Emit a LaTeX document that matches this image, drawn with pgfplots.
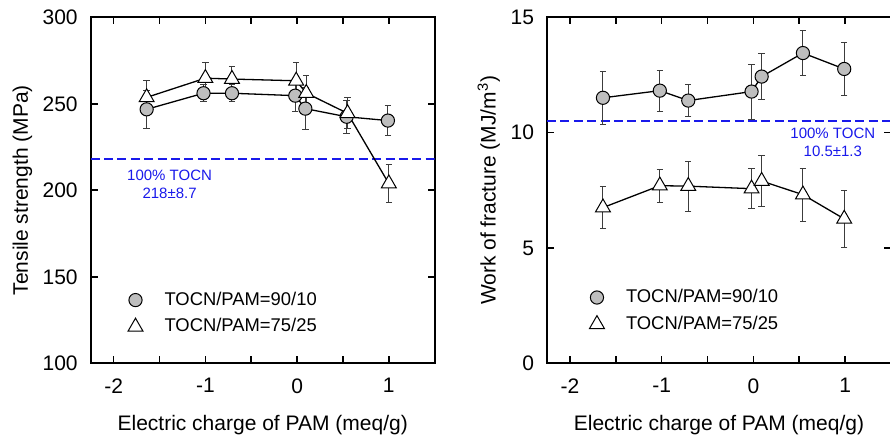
\documentclass[border=0pt]{standalone}
\usepackage{fontspec}
\setmainfont{Liberation Sans}
\usepackage{pgfplots}
\usepackage{pgfplotstable}
\pgfplotsset{compat=1.18}
\definecolor{refblue}{RGB}{25,25,235}
\definecolor{markgray}{RGB}{190,190,190}
\definecolor{errgray}{RGB}{60,60,60}
\newcommand{\legfont}{\fontsize{9.2}{11}\selectfont}

% tensile strength (MPa)
\pgfplotstableread{
x      y      e
-1.64  246.8  11.0
-1.02  256.1  5.0
-0.71  256.1  5.0
-0.02  254.7  9.4
 0.09  247.2  12.0
 0.54  242.5  9.5
 0.99  240.3  8.8
}\tsA
\pgfplotstableread{
x      y      e
-1.64  253.7  10.0
-1.00  264.8  9.0
-0.71  264.3  7.4
-0.01  263.3  10.5
 0.10  256.2  10.0
 0.55  244.5  9.0
 1.00  203.9  11.1
}\tsB
% work of fracture (MJ/m3)
\pgfplotstableread{
x      y      e
-1.64  11.51  1.16
-1.02  11.82  0.89
-0.71  11.39  0.70
-0.02  11.78  1.19
 0.09  12.43  1.01
 0.54  13.45  0.97
 0.99  12.76  1.14
}\wfA
\pgfplotstableread{
x      y      e
-1.64  6.75  0.91
-1.02  7.70  0.72
-0.71  7.68  1.08
-0.02  7.57  0.87
 0.09  7.90  1.10
 0.54  7.31  1.15
 0.99  6.26  1.23
}\wfB

\pgfplotsset{
  panel/.style={
    scale only axis, width=172pt, height=173pt,
    xmin=-2.25, xmax=1.5,
    xtick={-2,-1,0,1}, xticklabels={-2,-1,0,1},
    minor xtick={-1.5,-0.5,0.5},
    tick align=inside, major tick length=3.5pt, minor tick length=3.5pt,
    every tick/.style={black, line width=0.8pt},
    axis line style={line width=1pt},
    tick label style={font=\fontsize{10.5}{12}\selectfont},
    xticklabel style={yshift=-4pt},
    yticklabel style={xshift=-3pt},
    label style={font=\fontsize{10.5}{12}\selectfont},
    xlabel={Electric charge of PAM (meq/g)},
    xlabel style={at={(axis description cs:0.5,-0.193)}, anchor=base},
    legend style={draw=none, fill=none, font=\legfont,
      row sep=1.2pt,
      /tikz/every odd column/.append style={column sep=8.8pt}},
    legend cell align=left,
  },
  errs/.style={
    error bars/y dir=both, error bars/y explicit,
    error bars/error bar style={errgray, line width=0.5pt},
    error bars/error mark options={rotate=90, errgray, mark size=1.6pt, line width=0.5pt}},
  circ/.style={black, line width=0.65pt, mark=*, mark size=3.3pt,
    mark options={fill=markgray, draw=black, line width=0.5pt}, errs},
  tri/.style={black, line width=0.65pt, mark=triangle*, mark size=4.3pt,
    mark options={fill=white, draw=black, line width=0.5pt}, errs},
  refline/.style={refblue, line width=0.8pt, dash pattern=on 4.5pt off 2.2pt, forget plot},
}

\begin{document}
\begin{tikzpicture}
\begin{axis}[panel,
    at={(0,0)}, anchor=south west,
    ymin=100, ymax=300, ytick={100,150,200,250,300},
    yticklabels={100,150,200,250,300},
    ylabel={Tensile strength (MPa)},
    ylabel style={at={(axis description cs:-0.1826,0.5)}, anchor=base},
    legend style={at={(axis description cs:0.09,0.2306)}, anchor=north west},
]
\addlegendimage{only marks, mark=*, mark size=3.3pt, mark options={fill=markgray, draw=black, line width=0.5pt}}
\addlegendentry{TOCN/PAM=90/10}
\addlegendimage{only marks, mark=triangle*, mark size=4.3pt, mark options={fill=white, draw=black, line width=0.5pt}}
\addlegendentry{TOCN/PAM=75/25}
\addplot[refline] coordinates {(-2.25,218) (1.5,218)};
\addplot[circ, forget plot] table[x=x, y=y, y error=e] {\tsA};
\addplot[tri, forget plot] table[x=x, y=y, y error=e] {\tsB};
\node[refblue, font=\fontsize{7.5}{9}\selectfont, align=center] at (axis cs:-1.39,203.5) {100\% TOCN\\218±8.7};
\end{axis}

\begin{axis}[panel,
    at={(228.15pt,0)}, anchor=south west,
    ymin=0, ymax=15, ytick={0,5,10,15},
    yticklabels={0,5,10,15},
    ylabel={Work of fracture (MJ/m\textsuperscript{3})},
    ylabel style={at={(axis description cs:-0.149,0.5)}, anchor=base},
    legend style={at={(axis description cs:0.105,0.238)}, anchor=north west},
]
\addlegendimage{only marks, mark=*, mark size=3.3pt, mark options={fill=markgray, draw=black, line width=0.5pt}}
\addlegendentry{TOCN/PAM=90/10}
\addlegendimage{only marks, mark=triangle*, mark size=4.3pt, mark options={fill=white, draw=black, line width=0.5pt}}
\addlegendentry{TOCN/PAM=75/25}
\addplot[refline] coordinates {(-2.25,10.5) (1.5,10.5)};
\addplot[circ, forget plot] table[x=x, y=y, y error=e] {\wfA};
\addplot[tri, forget plot] table[x=x, y=y, y error=e] {\wfB};
\node[refblue, font=\fontsize{7.5}{9}\selectfont, align=center] at (axis cs:0.866,9.57) {100\% TOCN\\10.5±1.3};
\end{axis}
\pgfresetboundingbox
\path[use as bounding box] (-45.35pt,-36.85pt) rectangle (399.65pt,181.65pt);
\end{tikzpicture}
\end{document}
